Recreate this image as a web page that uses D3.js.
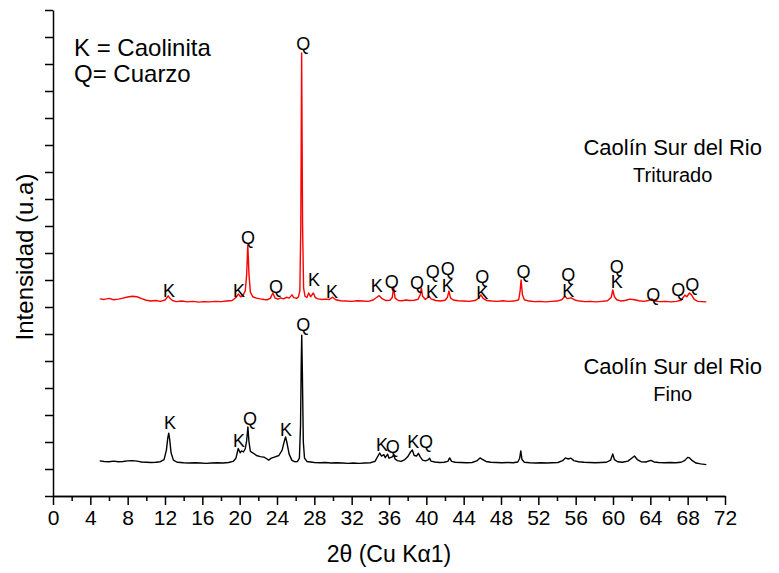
<!DOCTYPE html>
<html>
<head>
    <meta charset="utf-8" />
    <title>DRX Caolín Sur del Rio</title>
    <script src="https://d3js.org/d3.v7.min.js"></script>
    <style type='text/css'>
        body { margin: 0; background: #fff; }
        text { font-family: 'Liberation Sans', Arial, sans-serif; fill: #000; }
        .axis path, .axis line { stroke: #000; stroke-width: 1.5px; }
        .trace { fill: none; stroke-width: 1.4px; stroke-linejoin: round; }
    </style>
</head>
<body>
<script>
    // ---- data (2theta, intensity u.a.) ----
    var trituradoData = [
        [5.0, 730], [5.5, 728], [6.0, 732], [6.5, 727], [7.0, 729], [7.5, 733], [8.0, 737], [8.5, 740], [9.0, 738], [9.5, 731],
        [10.0, 725], [10.5, 722], [11.0, 724], [11.5, 721], [12.0, 726], [12.2, 734], [12.35, 741], [12.5, 733], [12.8, 724],
        [13.2, 720], [13.8, 722], [14.4, 719], [15.0, 721], [15.6, 718], [16.2, 720], [16.8, 719], [17.4, 721], [18.0, 720],
        [18.6, 722], [19.2, 724], [19.6, 735], [19.85, 748], [20.1, 738], [20.35, 742], [20.6, 760], [20.75, 820], [20.87, 930],
        [21.0, 820], [21.15, 755], [21.4, 738], [21.8, 733], [22.2, 730], [22.6, 728], [23.0, 727], [23.3, 733], [23.55, 752],
        [23.8, 733], [24.1, 729], [24.4, 734], [24.7, 730], [25.0, 736], [25.3, 733], [25.6, 745], [25.8, 735], [26.1, 732],
        [26.3, 738], [26.45, 760], [26.55, 1000], [26.64, 1641], [26.74, 1000], [26.85, 770], [27.0, 740], [27.2, 735],
        [27.4, 752], [27.6, 738], [27.9, 752], [28.1, 735], [28.4, 730], [28.8, 728], [29.2, 729], [29.6, 728], [29.95, 736],
        [30.3, 727], [30.8, 723], [31.4, 722], [32.0, 721], [32.6, 723], [33.2, 722], [33.8, 721], [34.3, 726], [34.7, 736],
        [34.95, 742], [35.3, 730], [35.7, 724], [36.1, 725], [36.35, 735], [36.5, 774], [36.65, 733], [37.0, 724], [37.4, 723],
        [37.8, 726], [38.2, 724], [38.7, 725], [39.1, 728], [39.35, 745], [39.47, 770], [39.6, 740], [39.9, 728], [40.15, 735],
        [40.3, 740], [40.5, 730], [41.0, 724], [41.5, 722], [42.0, 725], [42.25, 735], [42.42, 759], [42.6, 733], [42.9, 726],
        [43.4, 723], [44.0, 722], [44.6, 721], [45.2, 724], [45.6, 732], [45.85, 745], [46.1, 731], [46.5, 724], [47.0, 722],
        [47.6, 721], [48.2, 723], [48.8, 721], [49.4, 722], [49.9, 727], [50.05, 760], [50.15, 800], [50.3, 745], [50.5, 727],
        [51.0, 722], [51.6, 720], [52.2, 721], [52.8, 719], [53.4, 721], [54.0, 722], [54.5, 727], [54.85, 740], [55.1, 731],
        [55.5, 734], [55.9, 726], [56.4, 722], [57.0, 720], [57.6, 721], [58.2, 719], [58.8, 721], [59.4, 723], [59.8, 735],
        [59.98, 763], [60.15, 738], [60.4, 727], [60.9, 722], [61.4, 725], [61.8, 729], [62.3, 727], [62.8, 723], [63.3, 721],
        [63.8, 724], [64.15, 730], [64.5, 722], [65.0, 720], [65.6, 721], [66.2, 719], [66.8, 721], [67.3, 725], [67.7, 744],
        [67.9, 738], [68.2, 752], [68.4, 745], [68.7, 728], [69.1, 721], [69.5, 720], [70.0, 719]
    ];

    var finoData = [
        [5.0, 130], [5.5, 128], [6.0, 127], [6.5, 129], [7.0, 127], [7.5, 128], [8.0, 130], [8.5, 131], [9.0, 129], [9.5, 126],
        [10.0, 125], [10.5, 124], [11.0, 125], [11.5, 127], [11.9, 135], [12.15, 170], [12.3, 215], [12.4, 233], [12.5, 210],
        [12.65, 160], [12.9, 133], [13.3, 125], [14.0, 123], [14.6, 122], [15.2, 123], [15.8, 122], [16.4, 121], [17.0, 122],
        [17.6, 123], [18.2, 122], [18.8, 124], [19.3, 128], [19.6, 140], [19.85, 176], [20.05, 160], [20.2, 167], [20.4, 163],
        [20.6, 175], [20.75, 205], [20.88, 256], [21.0, 200], [21.15, 165], [21.4, 160], [21.8, 150], [22.2, 146], [22.6, 144],
        [22.9, 138], [23.1, 133], [23.4, 140], [23.8, 145], [24.2, 150], [24.55, 170], [24.8, 205], [24.92, 219], [25.05, 200],
        [25.3, 155], [25.6, 132], [25.9, 127], [26.2, 128], [26.4, 140], [26.52, 260], [26.6, 500], [26.65, 596], [26.72, 450],
        [26.82, 200], [26.95, 140], [27.2, 128], [27.6, 126], [28.0, 124], [28.6, 123], [29.2, 124], [29.8, 122], [30.4, 123],
        [31.0, 122], [31.6, 121], [32.2, 122], [32.8, 121], [33.4, 122], [34.0, 123], [34.5, 128], [34.85, 150], [35.0, 159],
        [35.2, 148], [35.45, 153], [35.6, 142], [35.85, 155], [36.0, 140], [36.35, 145], [36.5, 152], [36.65, 137], [36.9, 131],
        [37.3, 128], [37.7, 135], [38.0, 145], [38.35, 165], [38.5, 170], [38.7, 150], [38.95, 148], [39.15, 158], [39.35, 145],
        [39.6, 133], [39.9, 130], [40.2, 134], [40.35, 140], [40.5, 129], [40.9, 126], [41.4, 124], [41.9, 125], [42.3, 128],
        [42.5, 141], [42.7, 128], [43.1, 125], [43.7, 124], [44.3, 123], [44.9, 124], [45.4, 130], [45.75, 141], [46.0, 136],
        [46.4, 128], [46.9, 125], [47.5, 124], [48.1, 123], [48.7, 124], [49.3, 123], [49.8, 126], [50.0, 140], [50.12, 167],
        [50.25, 135], [50.5, 125], [51.1, 123], [51.7, 122], [52.3, 123], [52.9, 122], [53.5, 123], [54.1, 124], [54.6, 131],
        [54.9, 141], [55.2, 137], [55.5, 140], [55.8, 131], [56.3, 127], [56.9, 125], [57.5, 124], [58.1, 123], [58.7, 124],
        [59.3, 125], [59.75, 133], [59.97, 156], [60.15, 135], [60.5, 127], [61.0, 125], [61.6, 129], [62.0, 140], [62.3, 148],
        [62.6, 135], [63.0, 127], [63.5, 126], [64.05, 132], [64.4, 126], [64.9, 124], [65.5, 123], [66.1, 124], [66.7, 123],
        [67.3, 125], [67.7, 132], [68.0, 143], [68.2, 141], [68.5, 131], [68.9, 122], [69.4, 119], [70.0, 116]
    ];

    // peak labels: [phase, 2theta, intensity of text baseline]
    var trituradoLabels = [
        ['K', 12.43, 737], ['K', 19.93, 737], ['Q', 20.9, 933], ['Q', 23.9, 752], ['Q', 26.8, 1652], ['K', 27.97, 778],
        ['K', 29.9, 733], ['K', 34.7, 756], ['Q', 36.3, 770], ['Q', 39.0, 767], ['Q', 40.7, 807], ['K', 40.6, 733],
        ['Q', 42.3, 819], ['K', 42.3, 756], ['Q', 46.0, 789], ['K', 46.0, 730], ['Q', 50.4, 807], ['Q', 55.2, 796],
        ['K', 55.2, 737], ['Q', 60.4, 826], ['K', 60.4, 770], ['Q', 64.3, 722], ['Q', 67.0, 741], ['Q', 68.5, 759]
    ];
    var finoLabels = [
        ['K', 12.54, 248], ['K', 19.93, 181], ['Q', 21.1, 263], ['K', 24.96, 222], ['Q', 26.8, 611],
        ['K', 35.25, 167], ['Q', 36.4, 159], ['K', 38.6, 178], ['Q', 39.96, 178]
    ];

    var xMajorTicks = [0, 4, 8, 12, 16, 20, 24, 28, 32, 36, 40, 44, 48, 52, 56, 60, 64, 68, 72];
    var xMinorTicks = [2, 6, 10, 14, 18, 22, 26, 30, 34, 38, 42, 46, 50, 54, 58, 62, 66, 70];
    var yTicks = [0, 100, 200, 300, 400, 500, 600, 700, 800, 900, 1000, 1100, 1200, 1300, 1400, 1500, 1600, 1700, 1800];

    var legendLines = ['K = Caolinita', 'Q= Cuarzo'];
    var seriesNames = [
        { title: 'Caolín Sur del Rio', sub: 'Triturado', x: 66.4, y: 1263 },
        { title: 'Caolín Sur del Rio', sub: 'Fino', x: 66.4, y: 452 }
    ];

    // ---- layout ----
    var width = 779
        , height = 573
        , mLeft = 53
        , mRight = 725
        , mTop = 10
        , mBottom = 496;

    var svg = d3.select('body').append('svg')
        .attr('width', width)
        .attr('height', height);

    var x = d3.scaleLinear().domain([0, 72]).range([mLeft, mRight]);
    var y = d3.scaleLinear().domain([0, 1800]).range([mBottom, mTop]);

    // x axis: minor then major
    svg.append('g')
        .attr('class', 'axis')
        .attr('transform', `translate(0,${mBottom})`)
        .call(d3.axisBottom(x).tickValues(xMinorTicks).tickSize(5).tickSizeOuter(0).tickFormat(''));

    var xAx = svg.append('g')
        .attr('class', 'axis')
        .attr('transform', `translate(0,${mBottom})`)
        .call(d3.axisBottom(x).tickValues(xMajorTicks).tickSize(9).tickSizeOuter(0).tickFormat(d3.format('d')));
    xAx.selectAll('text')
        .attr('y', 14)
        .style('font-size', '21px');

    // y axis, no labels
    svg.append('g')
        .attr('class', 'axis')
        .attr('transform', `translate(${mLeft},0)`)
        .call(d3.axisLeft(y).tickValues(yTicks).tickSize(8).tickSizeOuter(0).tickFormat(''));

    // axis titles
    svg.append('text')
        .attr('x', 389)
        .attr('y', 562)
        .attr('text-anchor', 'middle')
        .style('font-size', '23px')
        .text('2θ (Cu Kα1)');

    svg.append('text')
        .attr('transform', `translate(33,257) rotate(-90)`)
        .attr('text-anchor', 'middle')
        .style('font-size', '24px')
        .text('Intensidad (u.a)');

    // traces
    var line = d3.line()
        .x(d => x(d[0]))
        .y(d => y(d[1]));

    svg.append('path')
        .datum(finoData)
        .attr('class', 'trace')
        .attr('stroke', '#000')
        .attr('d', line);

    svg.append('path')
        .datum(trituradoData)
        .attr('class', 'trace')
        .attr('stroke', '#ff0000')
        .attr('d', line);

    // peak labels
    function drawLabels(labels) {
        svg.append('g').selectAll('text')
            .data(labels)
            .enter()
            .append('text')
            .attr('x', d => x(d[1]))
            .attr('y', d => y(d[2]))
            .attr('text-anchor', 'middle')
            .style('font-size', '18px')
            .text(d => d[0]);
    }
    drawLabels(trituradoLabels);
    drawLabels(finoLabels);

    // legend
    svg.append('g').selectAll('text')
        .data(legendLines)
        .enter()
        .append('text')
        .attr('x', 74)
        .attr('y', (d, i) => 56 + i * 26)
        .style('font-size', '24px')
        .text(d => d);

    // series names
    seriesNames.forEach(function (s) {
        svg.append('text')
            .attr('x', x(s.x))
            .attr('y', y(s.y))
            .attr('text-anchor', 'middle')
            .style('font-size', '22px')
            .text(s.title);
        svg.append('text')
            .attr('x', x(s.x))
            .attr('y', y(s.y) + 27)
            .attr('text-anchor', 'middle')
            .style('font-size', '20px')
            .text(s.sub);
    });
</script>
</body>
</html>
